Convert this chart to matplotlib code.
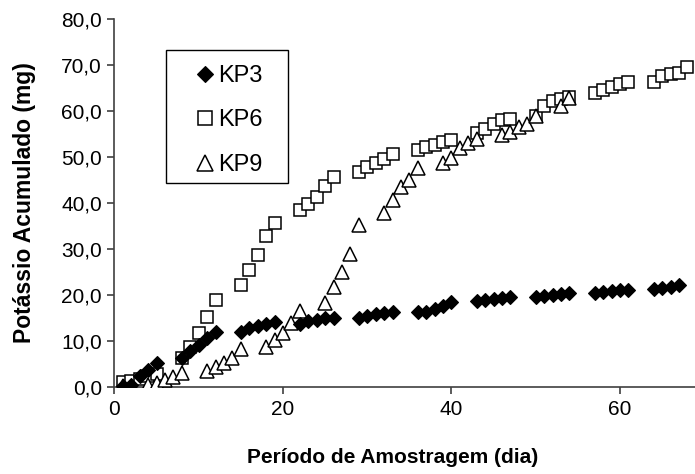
import matplotlib
matplotlib.use("Agg")
import matplotlib.pyplot as plt
from matplotlib.ticker import FuncFormatter
from matplotlib.patches import Rectangle

plt.rcParams["font.family"] = ["Liberation Sans", "DejaVu Sans"]

# sampling days (weekdays) and accumulated potassium (mg)
kp3_days = [1, 2, 3, 4, 5, 8, 9, 10, 11, 12, 15, 16, 17, 18, 19,
            22, 23, 24, 25, 26, 29, 30, 31, 32, 33, 36, 37, 38, 39, 40,
            43, 44, 45, 46, 47, 50, 51, 52, 53, 54, 57, 58, 59, 60, 61,
            64, 65, 66, 67]
kp3_vals = [0.2, 0.4, 2.3, 3.8, 5.3, 6.3, 7.8, 9.2, 10.6, 11.9,
            12.0, 12.9, 13.3, 13.7, 14.1, 13.8, 14.3, 14.6, 14.9, 15.1,
            15.0, 15.4, 15.8, 16.1, 16.4, 16.2, 16.4, 16.9, 17.6, 18.4,
            18.6, 18.9, 19.1, 19.3, 19.5, 19.5, 19.8, 20.0, 20.2, 20.4,
            20.5, 20.7, 20.9, 21.0, 21.1, 21.4, 21.6, 21.8, 22.1]

kp6_days = [1, 2, 3, 4, 5, 8, 9, 10, 11, 12, 15, 16, 17, 18, 19,
            22, 23, 24, 25, 26, 29, 30, 31, 32, 33, 36, 37, 38, 39, 40,
            43, 44, 45, 46, 47, 50, 51, 52, 53, 54, 57, 58, 59, 60, 61,
            64, 65, 66, 67, 68]
kp6_vals = [1.1, 1.4, 1.8, 2.3, 2.8, 6.3, 8.7, 11.7, 15.3, 18.9,
            22.2, 25.4, 28.7, 32.8, 35.6, 38.5, 39.7, 41.4, 43.8, 45.7,
            46.8, 47.8, 48.6, 49.5, 50.7, 51.5, 52.1, 52.6, 53.3, 53.7,
            55.2, 56.0, 57.2, 58.0, 58.2, 58.8, 61.1, 62.1, 62.7, 63.1,
            63.8, 64.6, 65.3, 65.9, 66.4, 66.4, 67.6, 68.0, 68.3, 69.6]

kp9_days = [1, 4, 5, 6, 7, 8, 11, 12, 13, 14, 15, 18, 19, 20, 21, 22,
            25, 26, 27, 28, 29, 32, 33, 34, 35, 36, 39, 40, 41, 42, 43,
            46, 47, 48, 49, 50, 53, 54]
kp9_vals = [0.3, 0.4, 0.8, 1.5, 2.2, 3.0, 3.4, 4.4, 5.2, 6.3, 8.2,
            8.6, 10.2, 11.7, 14.0, 16.5, 18.3, 21.8, 25.1, 29.0, 35.2,
            37.8, 40.7, 43.5, 45.1, 47.5, 48.6, 49.8, 51.9, 53.0, 54.0,
            54.7, 55.5, 56.5, 57.1, 59.0, 61.0, 62.8]

fig = plt.figure(figsize=(6.95, 4.74), dpi=100)
ax = fig.add_axes([0.1647, 0.1835, 0.8353, 0.7765])

ax.plot(kp3_days, kp3_vals, linestyle="none", marker="D", ms=7.4,
        mfc="black", mec="black", mew=0.8, label="KP3", zorder=4)
ax.plot(kp6_days, kp6_vals, linestyle="none", marker="s", ms=9,
        mfc="white", mec="black", mew=1.1, label="KP6", zorder=2)
ax.plot(kp9_days, kp9_vals, linestyle="none", marker="^", ms=9.5,
        mfc="white", mec="black", mew=1.1, label="KP9", zorder=3)

ax.set_xlim(0, 68.9)
ax.set_ylim(0, 80)
ax.set_xticks([0, 20, 40, 60])
ax.set_yticks(range(0, 81, 10))
ax.yaxis.set_major_formatter(FuncFormatter(lambda v, p: f"{v:.1f}".replace(".", ",")))

for side in ["top", "right"]:
    ax.spines[side].set_visible(False)
for side in ["left", "bottom"]:
    ax.spines[side].set_color("#404040")
    ax.spines[side].set_linewidth(1.2)
ax.tick_params(direction="out", length=5, width=1.2, color="#404040",
               labelsize=15, pad=4)

ax.set_xlabel("Período de Amostragem (dia)", fontsize=15, fontweight="bold", labelpad=21)
ax.xaxis.label.set_x(0.479)
ax.set_ylabel("Potássio Acumulado (mg)", fontsize=16.5, fontweight="bold", labelpad=18)

# legend frame drawn by hand, entries placed inside it
ax.add_patch(Rectangle((0.0887, 0.5543), 0.2102, 0.3615, transform=ax.transAxes,
                       facecolor="white", edgecolor="black", linewidth=1.0,
                       zorder=5, clip_on=False))
leg = ax.legend(loc="upper left", bbox_to_anchor=(0.1361, 0.875),
                borderaxespad=0, frameon=False, fontsize=17,
                handlelength=1.0, handletextpad=0.05, markerscale=1.15,
                labelspacing=0.95, borderpad=0)
leg.set_zorder(6)

fig.savefig("out.png", dpi=100)
